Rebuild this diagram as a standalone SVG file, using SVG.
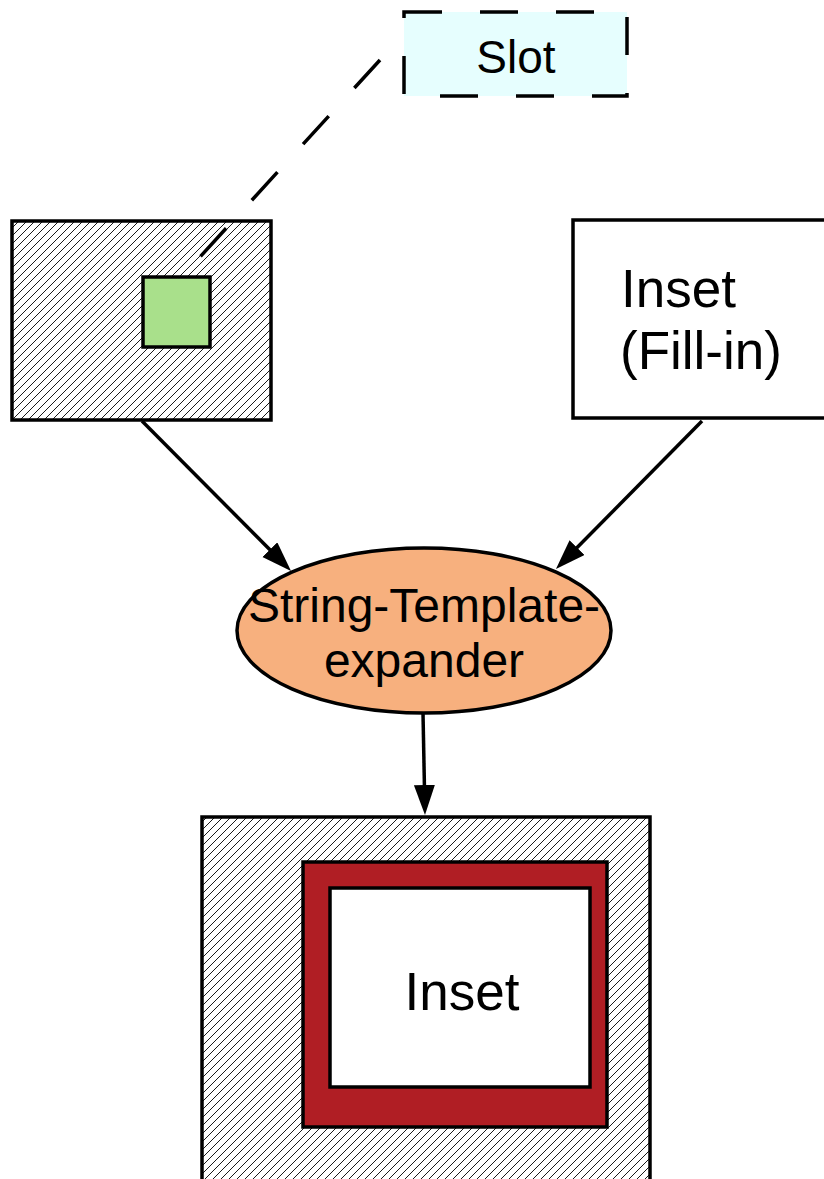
<svg xmlns="http://www.w3.org/2000/svg" width="824" height="1179" viewBox="0 0 824 1179">
<style>
.ln{stroke:#000;stroke-width:3.5;fill:none}
.box{stroke:#000;stroke-width:3.5}
.t{font-family:"Liberation Sans",Arial,sans-serif;fill:#000}
</style>
<defs>
<pattern id="hatch" patternUnits="userSpaceOnUse" width="8" height="8">
<rect width="8" height="8" fill="#fff"/>
<path d="M0,8 L8,0 M-1,1 L1,-1 M7,9 L9,7" stroke="#000" stroke-width="0.9"/>
</pattern>
<marker id="arr" markerUnits="userSpaceOnUse" markerWidth="32" markerHeight="22" refX="10" refY="10.5" orient="auto">
<path d="M0,0 L30,10.5 L0,21 z" fill="#000"/>
</marker>
</defs>
<g id="template">
<rect x="12" y="221" width="259" height="199" fill="url(#hatch)" class="box"/>
<rect x="143" y="277" width="67" height="70" fill="#a9e08b" class="box"/>
</g>
<g id="slot">
<rect x="404" y="12" width="223" height="84" fill="#e6fefe" stroke="#000" stroke-width="3.5" stroke-dasharray="38 38"/>
<text x="516" y="73" class="t" font-size="46" text-anchor="middle">Slot</text>
</g>
<g id="inset-fill">
<rect x="573" y="220" width="262" height="198" fill="#fff" class="box"/>
<text x="621" y="307" class="t" font-size="53">Inset</text>
<text x="620" y="369" class="t" font-size="53">(Fill-in)</text>
</g>
<g id="expander">
<ellipse cx="424" cy="630.5" rx="187" ry="82.5" fill="#f7b07e" class="box"/>
<text x="424" y="622" class="t" font-size="48" text-anchor="middle">String-Template-</text>
<text x="424" y="677" class="t" font-size="48" text-anchor="middle">expander</text>
</g>
<g id="result">
<rect x="202" y="817" width="448" height="380" fill="url(#hatch)" class="box"/>
<rect x="303" y="862" width="304" height="265" fill="#b01e24" class="box"/>
<rect x="330" y="888" width="260" height="199" fill="#fff" class="box"/>
<text x="462" y="1010" class="t" font-size="53" text-anchor="middle">Inset</text>
</g>
<g id="connectors">
<path d="M380,60 L199,258" class="ln" stroke-dasharray="38 38"/>
<path d="M142,421 L276.9,556.8" class="ln" marker-end="url(#arr)"/>
<path d="M702,421 L570,554.8" class="ln" marker-end="url(#arr)"/>
<path d="M423,713 L424.6,795" class="ln" marker-end="url(#arr)"/>
</g>
</svg>
